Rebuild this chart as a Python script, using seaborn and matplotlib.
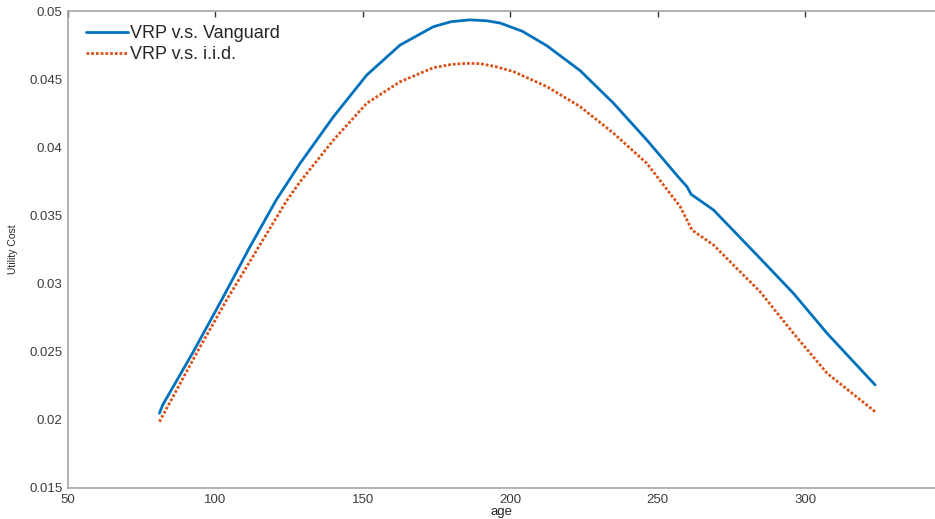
import matplotlib
matplotlib.use("Agg")
import matplotlib.pyplot as plt
import numpy as np
import pandas as pd
import seaborn as sns

# Utility cost of the VRP strategy against two benchmarks, by age
vanguard_age = [81.0, 82.1, 92.5, 102.1, 111.7, 120.6, 128.7, 140.0, 151.3, 162.6,
                173.9, 180.0, 186.4, 192.0, 196.5, 204.0, 212.4, 223.7, 235.0, 246.3,
                257.6, 259.9, 261.3, 268.9, 284.7, 296.0, 307.4, 323.7]
vanguard_cost = [0.02048, 0.02109, 0.02500, 0.02880, 0.03270, 0.03613, 0.03882, 0.04224,
                 0.04530, 0.04750, 0.04885, 0.04922, 0.04935, 0.04928, 0.04912, 0.04852,
                 0.04745, 0.04562, 0.04323, 0.04053, 0.03766, 0.03711, 0.03655, 0.03540,
                 0.03185, 0.02928, 0.02635, 0.02256]

iid_age = [81.0, 94.2, 103.8, 124.2, 128.7, 140.0, 151.3, 162.6, 173.9, 180.0,
           185.2, 189.8, 195.0, 201.1, 212.4, 223.7, 235.0, 246.3, 257.6, 261.6,
           268.9, 284.7, 296.0, 307.4, 323.7]
iid_cost = [0.01986, 0.02513, 0.02880, 0.03610, 0.03747, 0.04053, 0.04323, 0.04481,
            0.04584, 0.04608, 0.04616, 0.04614, 0.04592, 0.04555, 0.04445, 0.04298,
            0.04103, 0.03882, 0.03564, 0.03393, 0.03283, 0.02940, 0.02635, 0.02342,
            0.02060]

series_names = ["VRP v.s. Vanguard", "VRP v.s. i.i.d."]
x_ticks = [50, 100, 150, 200, 250, 300]
y_ticks = [0.015, 0.02, 0.025, 0.03, 0.035, 0.04, 0.045, 0.05]

df = pd.concat([
    pd.DataFrame({"age": vanguard_age, "cost": vanguard_cost, "series": series_names[0]}),
    pd.DataFrame({"age": iid_age, "cost": iid_cost, "series": series_names[1]}),
], ignore_index=True)

sns.set_style("white")
plt.rcParams["font.family"] = ["Liberation Sans", "DejaVu Sans"]

fig = plt.figure(figsize=(9.35, 5.19), dpi=100)
ax = fig.add_axes([68 / 935, 1 - 488 / 519, 867 / 935, 477 / 519])

sns.lineplot(
    data=df, x="age", y="cost", hue="series", style="series",
    hue_order=series_names, style_order=series_names,
    palette={series_names[0]: "#0072BD", series_names[1]: "#D95319"},
    dashes={series_names[0]: "", series_names[1]: (1, 0.7)},
    estimator=None, sort=True, linewidth=2.0, ax=ax,
)

ax.set_xlim(50, 344)
ax.set_ylim(0.015, 0.05)
ax.set_xticks(x_ticks)
ax.set_xticklabels([str(t) for t in x_ticks])
ax.set_yticks(y_ticks)
ax.set_yticklabels([f"{t:g}" for t in y_ticks])

ax.set_xlabel("age", fontsize=9.5, color="#262626", labelpad=0.5)
ax.set_ylabel("Utility Cost", fontsize=7.5, color="#262626", labelpad=8)

ax.tick_params(axis="both", direction="in", length=4, width=1, color="#333333",
               labelsize=9.5, labelcolor="#3c3c3c", top=True, right=False, pad=4)

for side in ["left", "bottom", "top"]:
    ax.spines[side].set_color("#a6a6a6")
    ax.spines[side].set_linewidth(1.2)
ax.spines["right"].set_visible(False)

handles, labels = ax.get_legend_handles_labels()
ax.legend(handles, labels, loc="upper left", bbox_to_anchor=(0.021, 0.970),
          frameon=False, fontsize=13, handlelength=2.3, handletextpad=0.12,
          borderpad=0, borderaxespad=0, labelspacing=0.2)

fig.savefig("out.png", dpi=100)
